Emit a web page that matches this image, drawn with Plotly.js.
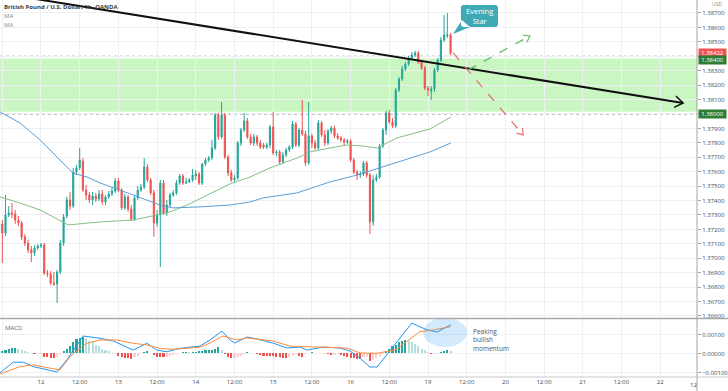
<!DOCTYPE html>
<html><head><meta charset="utf-8">
<script src="https://cdn.plot.ly/plotly-3.0.1.min.js"></script>
<style>html,body{margin:0;padding:0;background:#fff;}#chart{width:728px;height:391px;}</style>
</head><body><div id="chart"></div>
<script>
// ---- DATA (1h bars, index 0 = day 12 00:00) ----
const firstBar = -13;
const opens = [
1.37196,1.37238,1.37175,1.37300,1.37314,1.37307,1.37265,1.37245,1.37148,1.37106,
1.37058,1.37037,1.37071,1.37085,1.37092,1.36898,1.36891,1.36829,1.36822,1.36905,
1.37106,1.37293,1.37404,1.37362,1.37598,1.37626,1.37674,1.37473,1.37439,1.37404,
1.37432,1.37411,1.37446,1.37390,1.37425,1.37446,1.37466,1.37536,1.37473,1.37349,
1.37425,1.37342,1.37272,1.37418,1.37473,1.37494,1.37633,1.37543,1.37453,1.37245,
1.37300,1.37522,1.37314,1.37369,1.37439,1.37453,1.37522,1.37570,1.37522,1.37529,
1.37543,1.37570,1.37584,1.37522,1.37654,1.37681,1.37695,1.37764,1.37993,1.37841,
1.37993,1.37702,1.37591,1.37543,1.37557,1.37799,1.37889,1.37952,1.37841,1.37799,
1.37841,1.37799,1.37785,1.37771,1.37785,1.37910,1.37730,1.37737,1.37667,1.37716,
1.37751,1.37771,1.37931,1.37785,1.37889,1.37861,1.37660,1.37848,1.37799,1.37764,
1.37938,1.37855,1.37799,1.37882,1.37903,1.37848,1.37834,1.37820,1.37806,1.37813,
1.37681,1.37598,1.37577,1.37584,1.37660,1.37577,1.37252,1.37543,1.37563,1.37778,
1.37889,1.38007,1.37945,1.37917,1.38166,1.38243,1.38312,1.38347,1.38388,1.38409,
1.38423,1.38360,1.38319,1.38180,1.38159,1.38173,1.38305,1.38374,1.38513,1.38541,
1.38548];
const highs = [
1.37279,1.37265,1.37439,1.37362,1.37383,1.37335,1.37293,1.37259,1.37168,1.37127,
1.37085,1.37092,1.37099,1.37106,1.37106,1.36919,1.36912,1.36905,1.36919,1.37127,
1.37307,1.37425,1.37459,1.37626,1.37647,1.37764,1.37695,1.37508,1.37459,1.37459,
1.37453,1.37473,1.37473,1.37439,1.37466,1.37487,1.37557,1.37557,1.37487,1.37446,
1.37439,1.37369,1.37432,1.37501,1.37515,1.37695,1.37654,1.37557,1.37473,1.37335,
1.37543,1.37543,1.37404,1.37453,1.37473,1.37543,1.37584,1.37584,1.37557,1.37557,
1.37619,1.37612,1.37598,1.37660,1.37695,1.37709,1.37820,1.38007,1.38007,1.38083,
1.38007,1.37716,1.37612,1.37577,1.37813,1.37903,1.38007,1.37972,1.37861,1.37861,
1.37855,1.37820,1.37799,1.37799,1.37924,1.38014,1.37751,1.37751,1.37737,1.37764,
1.37785,1.37952,1.37945,1.37903,1.38097,1.37882,1.38083,1.37861,1.37820,1.37958,
1.37952,1.37889,1.37896,1.37917,1.37917,1.37868,1.37848,1.37834,1.37827,1.37827,
1.37695,1.37612,1.37605,1.37674,1.37674,1.37591,1.37577,1.37584,1.37792,1.37903,
1.38021,1.38028,1.37972,1.38180,1.38256,1.38333,1.38360,1.38402,1.38430,1.38437,
1.38437,1.38374,1.38333,1.38194,1.38194,1.38319,1.38388,1.38534,1.38686,1.38700,
1.38561];
const lows = [
1.37155,1.36967,1.37155,1.37286,1.37279,1.37238,1.37224,1.37127,1.37085,1.37037,
1.36974,1.37016,1.37058,1.37071,1.36884,1.36870,1.36815,1.36808,1.36690,1.36891,
1.37085,1.37279,1.37335,1.37349,1.37577,1.37612,1.37459,1.37404,1.37383,1.37369,
1.37390,1.37397,1.37369,1.37369,1.37411,1.37432,1.37453,1.37459,1.37335,1.37335,
1.37321,1.37259,1.37259,1.37404,1.37459,1.37480,1.37529,1.37439,1.37148,1.37217,
1.36940,1.37300,1.37293,1.37356,1.37425,1.37439,1.37508,1.37508,1.37515,1.37522,
1.37529,1.37543,1.37508,1.37508,1.37640,1.37667,1.37681,1.37751,1.37820,1.37827,
1.37688,1.37570,1.37529,1.37522,1.37543,1.37778,1.37875,1.37827,1.37785,1.37778,
1.37778,1.37757,1.37757,1.37757,1.37764,1.37716,1.37709,1.37647,1.37654,1.37702,
1.37737,1.37757,1.37771,1.37771,1.37848,1.37640,1.37647,1.37764,1.37751,1.37751,
1.37841,1.37778,1.37785,1.37861,1.37834,1.37820,1.37806,1.37785,1.37792,1.37667,
1.37584,1.37543,1.37557,1.37570,1.37557,1.37168,1.37224,1.37529,1.37550,1.37764,
1.37855,1.37931,1.37903,1.37903,1.38153,1.38229,1.38298,1.38333,1.38374,1.38395,
1.38347,1.38305,1.38166,1.38125,1.38097,1.38153,1.38291,1.38360,1.38499,1.38527,
1.38409];
const closes = [
1.37238,1.37175,1.37300,1.37314,1.37307,1.37265,1.37245,1.37148,1.37106,1.37058,
1.37037,1.37071,1.37085,1.37092,1.36898,1.36891,1.36829,1.36822,1.36905,1.37106,
1.37286,1.37404,1.37362,1.37598,1.37626,1.37681,1.37473,1.37439,1.37404,1.37432,
1.37411,1.37446,1.37390,1.37425,1.37446,1.37466,1.37536,1.37473,1.37349,1.37425,
1.37342,1.37272,1.37418,1.37473,1.37494,1.37633,1.37543,1.37453,1.37245,1.37300,
1.37522,1.37314,1.37369,1.37439,1.37453,1.37522,1.37570,1.37522,1.37529,1.37543,
1.37577,1.37584,1.37522,1.37654,1.37681,1.37695,1.37764,1.37993,1.37841,1.37993,
1.37702,1.37591,1.37543,1.37557,1.37799,1.37889,1.37952,1.37841,1.37799,1.37841,
1.37799,1.37771,1.37771,1.37785,1.37910,1.37730,1.37737,1.37667,1.37716,1.37751,
1.37771,1.37931,1.37785,1.37889,1.37861,1.37660,1.37848,1.37799,1.37764,1.37938,
1.37855,1.37799,1.37882,1.37903,1.37848,1.37834,1.37820,1.37806,1.37813,1.37681,
1.37598,1.37577,1.37584,1.37660,1.37577,1.37252,1.37543,1.37563,1.37778,1.37889,
1.38007,1.37945,1.37917,1.38166,1.38243,1.38312,1.38347,1.38388,1.38409,1.38423,
1.38360,1.38319,1.38180,1.38166,1.38173,1.38305,1.38374,1.38513,1.38548,1.38548,
1.38422];

// Moving averages (sampled along the line)
const maGreenX = [-12.7,-6.5,-0.3,8.4,18.3,28.5,36,40,45.3,53.3,58.6,64.8,71,79.4,83.4,89.6,94.9,99.8,104.2,106,110.4,120.6,127.1];
const maGreenY = [1.37425,1.37383,1.37335,1.37231,1.37252,1.37265,1.37300,1.37321,1.37369,1.37460,1.37515,1.37563,1.37626,1.37695,1.37737,1.37764,1.37785,1.37778,1.37764,1.37785,1.37834,1.37896,1.37979];
const maBlueX = [-12.7,-6.5,-0.3,3.7,9.9,14.3,18.3,28.5,36.9,40.9,49.3,58.6,64.8,68.8,79.4,89.6,98,102.9,110.4,120.6,127.1];
const maBlueY = [1.38014,1.37938,1.37820,1.37730,1.37591,1.37563,1.37522,1.37439,1.37369,1.37349,1.37356,1.37369,1.37390,1.37418,1.37453,1.37529,1.37577,1.37612,1.37667,1.37737,1.37799];

// MACD pane
const macdX = [-12.7,-8.6,-5.5,-2.4,4.9,8,13.1,18.3,22.4,26.6,28.6,32.8,35.9,39,43.1,49.3,52.4,56.1,58.6,60.2,63.9,67,71.9,76.3,80.3,82.5,87.4,92.7,95.8,98.9,102,104.2,115,119.7,122.8,127];
const macdY = [-0.00101,-0.00046,-0.00046,-0.00069,-0.00097,-0.00034,0.00092,0.00080,0.00066,0.00036,0.00018,0.00054,0.00018,0.00009,0.00027,0.00039,0.00071,0.00118,0.00071,0.00055,0.00087,0.00076,0.00055,0.00029,0.00034,0.00018,0.00034,0.00029,0.00013,-0.00024,-0.00071,-0.00071,0.00160,0.00124,0.00113,0.00150];
const signalX = [-12.7,-6.5,-2.4,2.8,5.9,9,14.2,18.3,23.5,28.6,32.8,36.9,41,49.3,52.4,56.4,60.8,63.9,71.9,77.2,87.4,94.9,98.9,104.2,110,113,117.5,121.7,127];
const signalY = [-0.00108,-0.00069,-0.00060,-0.00078,-0.00087,-0.00017,0.00054,0.00071,0.00071,0.00054,0.00045,0.00027,0.00022,0.00033,0.00055,0.00092,0.00071,0.00082,0.00066,0.00039,0.00034,0.00029,0.00003,0.00001,0.00020,0.00060,0.00115,0.00124,0.00141];
const histY = [
0.00008,0.00013,0.00018,0.00024,0.00029,0.00031,0.00024,0.00018,0.00013,0.00008,
0.00003,-0.00005,-0.00004,-0.00003,-0.00016,-0.00021,-0.00024,-0.00026,-0.00016,-0.00005,
0.00011,0.00026,0.00042,0.00058,0.00074,0.00084,0.00087,0.00079,0.00068,0.00058,
0.00047,0.00037,0.00026,0.00018,0.00011,0.00005,0.00002,-0.00011,-0.00018,-0.00024,
-0.00026,-0.00027,-0.00021,-0.00013,-0.00005,0.00008,0.00011,0.00005,-0.00008,-0.00016,
-0.00018,-0.00020,-0.00016,-0.00011,-0.00008,-0.00003,0.00004,0.00006,0.00008,0.00007,
0.00008,0.00009,0.00012,0.00014,0.00016,0.00018,0.00021,0.00026,0.00032,0.00021,
-0.00005,-0.00021,-0.00026,-0.00024,-0.00016,-0.00011,-0.00005,0.00008,0.00005,0.00003,
-0.00005,-0.00008,-0.00011,-0.00012,-0.00013,-0.00014,-0.00016,-0.00021,-0.00024,-0.00025,
-0.00018,-0.00013,-0.00008,-0.00013,-0.00016,-0.00005,0.00004,0.00006,0.00004,0.00002,
0.00001,0.00001,-0.00005,-0.00008,-0.00006,-0.00005,-0.00008,-0.00013,-0.00018,-0.00024,
-0.00026,-0.00028,-0.00029,-0.00021,-0.00018,-0.00042,-0.00032,-0.00024,-0.00013,-0.00004,
0.00013,0.00026,0.00037,0.00047,0.00058,0.00066,0.00071,0.00066,0.00058,0.00050,
0.00037,0.00026,0.00016,0.00008,-0.00004,-0.00002,0.00003,0.00008,0.00013,0.00016,
0.00015];

// Axis labels
const timeTickPos = [-12,0,12,24,36,48,60,72,84,96,108,120,132,144,156,168,180,192];
const timeTickText = ['12:00','12','12:00','13','12:00','14','12:00','15','12:00','16','12:00','19','12:00','20','12:00','21','12:00','22'];
const cutTimeLabel = '12';
const priceTicks = [1.366,1.367,1.368,1.369,1.370,1.371,1.372,1.373,1.374,1.375,1.376,1.377,1.378,1.379,1.380,1.381,1.382,1.383,1.384,1.385,1.386,1.387];
const macdTicks = [-0.001,0,0.001];
const macdTickText = ['\u22120.00100','0.00000','0.00100'];

// Zone, levels and drawings (data coordinates)
const zoneTop = 1.38385, zoneBottom = 1.38015;
const levelTop = 1.38400, levelBottom = 1.38000, lastPrice = 1.38422;
const trend = [-13, 1.38838, 199.1, 1.38076];
const bearPath = [127.8, 1.38423, 149.5, 1.37855];
const bullPath = [132.4, 1.38305, 151.6, 1.38541];
const callout = {left:130.2, right:141.7, top:1.38755, bottom:1.38603, tipX:127.8, tipY:1.38554};
const ellipse = {x0:118.5, x1:132.1, y0:0.00034, y1:0.00187};

// ---- geometry helpers ----
const X0 = -12.71, X1 = 203.41, Y0 = 1.36586, Y1 = 1.38790, M0 = -0.001236, M1 = 0.001815;
const PLOT_W = 697, MAIN_H = 318;
const pxH = PLOT_W / (X1 - X0), pxP = MAIN_H / (Y1 - Y0);
function chevron(h0, p0, h1, p1, len, angDeg) {
  const dx = (h1 - h0) * pxH, dy = -(p1 - p0) * pxP;
  const L = Math.hypot(dx, dy), ux = -dx / L, uy = -dy / L;
  const pts = [angDeg, -angDeg].map(a => {
    const r = a * Math.PI / 180, c = Math.cos(r), s = Math.sin(r);
    const rx = ux * c - uy * s, ry = ux * s + uy * c;
    return [h1 + rx * len / pxH, p1 - ry * len / pxP];
  });
  return `M${pts[0][0]},${pts[0][1]} L${h1},${p1} L${pts[1][0]},${pts[1][1]}`;
}
function calloutPath(c, rpx) {
  const rx = rpx / pxH, ry = rpx / pxP;
  const {left:l, right:r, top:t, bottom:b} = c;
  let p = `M${l+rx},${t} L${r-rx},${t} Q${r},${t} ${r},${t-ry} L${r},${b+ry} Q${r},${b} ${r-rx},${b} L${l+rx},${b} Q${l},${b} ${l},${b+ry} L${l},${t-ry} Q${l},${t} ${l+rx},${t} Z`;
  p += ` M${l+1/pxH},${b+7/pxP} L${l+9/pxH},${b} L${c.tipX},${c.tipY} Z`;
  return p;
}

const bars = opens.map((_, i) => firstBar + i);
const histColors = histY.map((v, i) => {
  const prev = i > 0 ? histY[i-1] : 0;
  if (v >= 0) return v > prev ? '#26a69a' : '#b2dfdb';
  return v < prev ? '#ef5350' : '#ffcdd2';
});

const traces = [
  {type:'candlestick', x:bars, open:opens, high:highs, low:lows, close:closes, xaxis:'x', yaxis:'y',
   increasing:{line:{color:'#26a69a', width:1}, fillcolor:'#26a69a'},
   decreasing:{line:{color:'#ef5350', width:1}, fillcolor:'#ef5350'},
   whiskerwidth:0, hoverinfo:'skip'},
  {type:'scatter', mode:'lines', x:maGreenX, y:maGreenY, xaxis:'x', yaxis:'y', line:{color:'#84bf84', width:1}, hoverinfo:'skip'},
  {type:'scatter', mode:'lines', x:maBlueX, y:maBlueY, xaxis:'x', yaxis:'y', line:{color:'#5b9fd6', width:1}, hoverinfo:'skip'},
  {type:'bar', x:bars, y:histY, xaxis:'x', yaxis:'y2', marker:{color:histColors, line:{width:0}}, width:0.65, hoverinfo:'skip'},
  {type:'scatter', mode:'lines', x:macdX, y:macdY, xaxis:'x', yaxis:'y2', line:{color:'#2196f3', width:1}, hoverinfo:'skip'},
  {type:'scatter', mode:'lines', x:signalX, y:signalY, xaxis:'x', yaxis:'y2', line:{color:'#ff8a3d', width:1}, hoverinfo:'skip'}
];

const grid = '#eef0f4', axisLine = '#a3a3a3', txt = '#4a4a4a';
const shapes = [
  {type:'rect', xref:'paper', x0:0, x1:1, yref:'y', y0:zoneBottom, y1:zoneTop, fillcolor:'rgb(202,246,194)', line:{width:0}, layer:'below'},
  {type:'line', xref:'paper', x0:0, x1:1, yref:'y', y0:levelTop, y1:levelTop, line:{color:'#7a7d85', width:1, dash:'dot'}, layer:'between'},
  {type:'line', xref:'paper', x0:0, x1:1, yref:'y', y0:levelBottom, y1:levelBottom, line:{color:'#7a7d85', width:1, dash:'dot'}, layer:'between'},
  {type:'line', xref:'x', yref:'y', x0:trend[0], y0:trend[1], x1:trend[2], y1:trend[3], line:{color:'#111', width:2}, layer:'above'},
  {type:'path', xref:'x', yref:'y', path:chevron(trend[0],trend[1],trend[2],trend[3],10,35), line:{color:'#111', width:1.5}, layer:'above'},
  {type:'line', xref:'x', yref:'y', x0:bearPath[0], y0:bearPath[1], x1:bearPath[2], y1:bearPath[3], line:{color:'#e57373', width:1.3, dash:'dash'}, layer:'above'},
  {type:'path', xref:'x', yref:'y', path:chevron(...bearPath,7,35), line:{color:'#e57373', width:1.2}, layer:'above'},
  {type:'line', xref:'x', yref:'y', x0:bullPath[0], y0:bullPath[1], x1:bullPath[2], y1:bullPath[3], line:{color:'#66bb6a', width:1.3, dash:'dash'}, layer:'above'},
  {type:'path', xref:'x', yref:'y', path:chevron(...bullPath,7,35), line:{color:'#66bb6a', width:1.2}, layer:'above'},
  {type:'path', xref:'x', yref:'y', path:calloutPath(callout,3), fillcolor:'#3fa9b5', line:{width:0}, layer:'above'},
  {type:'circle', xref:'x', yref:'y2', x0:ellipse.x0, x1:ellipse.x1, y0:ellipse.y0, y1:ellipse.y1, fillcolor:'rgba(33,150,243,0.2)', line:{width:0}, layer:'above'},
  {type:'line', xref:'paper', yref:'paper', x0:0, x1:1.05, y0:0.1552, y1:0.1552, line:{color:'#a8a8a8', width:1.5}},
  {type:'line', xref:'paper', yref:'paper', x0:1, x1:1, y0:-0.04, y1:1, line:{color:axisLine, width:1}},
  {type:'line', xref:'paper', yref:'paper', x0:0, x1:1.05, y0:0, y1:0, line:{color:'#c8c8c8', width:1}}
];

const priceLabel = (y, bg, shift) => ({xref:'paper', x:1, xanchor:'left', xshift:1, yref:'y', y:y, yanchor:'middle', yshift:shift,
  text:y.toFixed(5), showarrow:false, bgcolor:bg, font:{color:'#fff', size:6}, width:27, height:8, borderpad:0});

const annotations = [
  {xref:'paper', yref:'paper', x:0, y:1, xanchor:'left', yanchor:'top', xshift:2, yshift:-1, showarrow:false,
   text:'<b>British Pound / U.S. Dollar, 1h, OANDA</b>', font:{size:6, color:'#3c3c3c'}},
  {xref:'paper', yref:'paper', x:0, y:1, xanchor:'left', yanchor:'top', xshift:2, yshift:-10, showarrow:false, text:'MA', font:{size:6, color:'#8a8a8a'}},
  {xref:'paper', yref:'paper', x:0, y:1, xanchor:'left', yanchor:'top', xshift:2, yshift:-19, showarrow:false, text:'MA', font:{size:6, color:'#8a8a8a'}},
  {xref:'paper', yref:'paper', x:0, y:0.1552, xanchor:'left', yanchor:'top', xshift:3, yshift:-4, showarrow:false, text:'MACD', font:{size:6, color:'#6a6a6a'}},
  {xref:'paper', yref:'paper', x:1, y:1, xanchor:'left', yanchor:'top', xshift:13, yshift:1, showarrow:false, text:'USD', font:{size:5, color:'#8a8a8a'}},
  {xref:'paper', yref:'paper', x:0.9955, y:0, xanchor:'center', yanchor:'top', yshift:-2, showarrow:false, text:cutTimeLabel, font:{size:6, color:txt}},
  priceLabel(lastPrice, '#ef5350', 0),
  priceLabel(levelTop, '#2e7d32', -4),
  priceLabel(levelBottom, '#2e7d32', 0),
  {xref:'x', yref:'y', x:(callout.left+callout.right)/2, y:(callout.top+callout.bottom)/2, showarrow:false,
   text:'Evening<br>Star', font:{size:7.5, color:'#ffffff'}, align:'center'},
  {xref:'x', yref:'y2', x:133.3, y:0.00071, xanchor:'left', yanchor:'middle', showarrow:false, align:'left',
   text:'Peaking<br>bullish<br>momentum', font:{size:6.5, color:'#555'}}
];

const layout = {
  width:728, height:391,
  margin:{l:0, r:31, t:0, b:14, pad:0},
  paper_bgcolor:'#ffffff', plot_bgcolor:'#ffffff',
  showlegend:false,
  font:{family:'Open Sans, sans-serif', size:6, color:txt},
  boxgap:0.5, bargap:0,
  xaxis:{range:[X0, X1], anchor:'y2', tickmode:'array', tickvals:timeTickPos, ticktext:timeTickText,
         showgrid:true, gridcolor:grid, gridwidth:1, zeroline:false, showline:false, ticks:'',
         tickfont:{size:6, color:txt}, rangeslider:{visible:false}, fixedrange:true},
  yaxis:{domain:[0.1565, 1], range:[Y0, Y1], side:'right', anchor:'x', tickmode:'array', tickvals:priceTicks,
         ticktext:priceTicks.map(v => (v === levelTop || v === levelBottom) ? '' : v.toFixed(5)),
         showgrid:true, gridcolor:grid, zeroline:false,
         ticks:'outside', ticklen:3, tickcolor:axisLine, showline:false, tickfont:{size:6, color:txt}, fixedrange:true},
  yaxis2:{domain:[0, 0.15385], range:[M0, M1], side:'right', anchor:'x', tickmode:'array', tickvals:macdTicks,
          ticktext:macdTickText, showgrid:true, gridcolor:grid, zeroline:false,
          ticks:'outside', ticklen:3, tickcolor:axisLine, showline:false, tickfont:{size:6, color:txt}, fixedrange:true},
  shapes:shapes,
  annotations:annotations
};

Plotly.newPlot('chart', traces, layout, {staticPlot:true, displayModeBar:false});
</script>
</body></html>
